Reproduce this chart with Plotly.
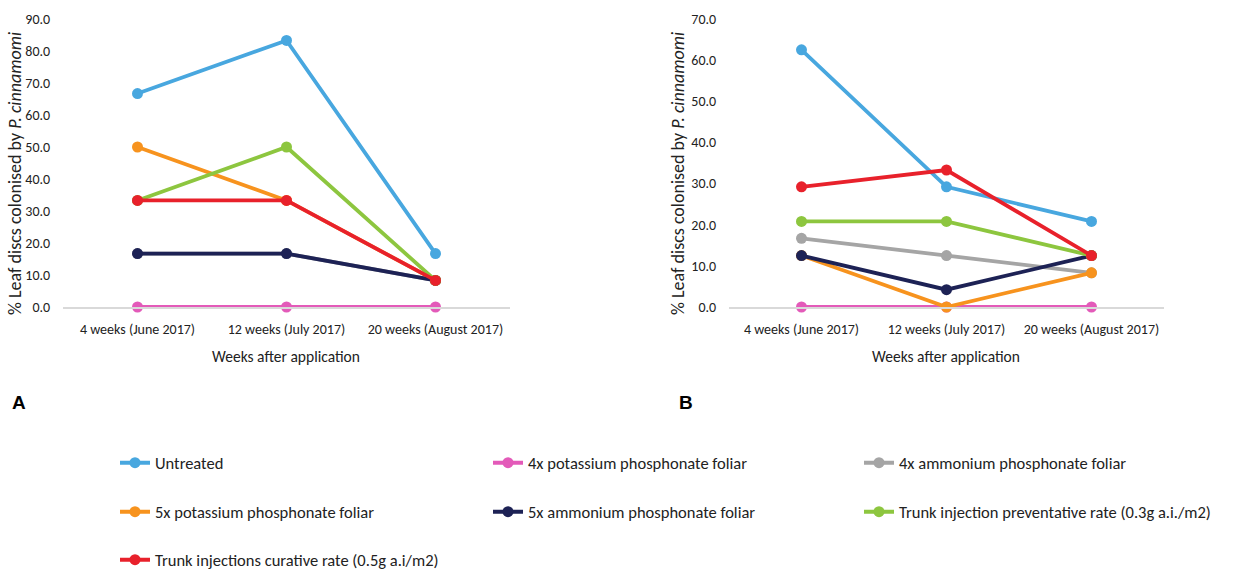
import plotly.graph_objects as go

categories = ["4 weeks (June 2017)", "12 weeks (July 2017)", "20 weeks (August 2017)"]
series_names = [
    "Untreated",
    "4x potassium phosphonate foliar",
    "4x ammonium phosphonate foliar",
    "5x potassium phosphonate foliar",
    "5x ammonium phosphonate foliar",
    "Trunk injection preventative rate (0.3g a.i./m2)",
    "Trunk injections curative rate (0.5g a.i/m2)",
]
colors = ["#48a7df", "#e35ab9", "#a5a5a5", "#f7931e", "#1d2255", "#8dc63f", "#e8212b"]

panel_a = [
    [66.7, 83.3, 16.7],
    [0.0, 0.0, 0.0],
    [16.7, 16.7, 8.3],
    [50.0, 33.3, 8.3],
    [16.7, 16.7, 8.3],
    [33.3, 50.0, 8.3],
    [33.3, 33.3, 8.3],
]
panel_b = [
    [62.5, 29.2, 20.8],
    [0.0, 0.0, 0.0],
    [16.7, 12.5, 8.3],
    [12.5, 0.0, 8.3],
    [12.5, 4.2, 12.5],
    [20.8, 20.8, 12.5],
    [29.2, 33.3, 12.5],
]

W, H = 1258, 569
FONT = "Carlito, Lato, sans-serif"
TXT = "#222222"

def px(x):
    return x / W

def py(y):
    return 1 - y / H

fig = go.Figure()
legend_keys = ["legend", "legend2", "legend3", "legend4", "legend5", "legend6", "legend7"]

for i, name in enumerate(series_names):
    fig.add_trace(go.Scatter(
        x=categories, y=panel_a[i], name=name, mode="lines+markers",
        line=dict(color=colors[i], width=3.8),
        marker=dict(color=colors[i], size=11),
        xaxis="x", yaxis="y", cliponaxis=False,
        legend=legend_keys[i], showlegend=True,
    ))
for i, name in enumerate(series_names):
    fig.add_trace(go.Scatter(
        x=categories, y=panel_b[i], name=name, mode="lines+markers",
        line=dict(color=colors[i], width=3.8),
        marker=dict(color=colors[i], size=11),
        xaxis="x2", yaxis="y2", cliponaxis=False,
        showlegend=False,
    ))

xcommon = dict(
    type="category", range=[-0.5, 2.5], showline=True, linecolor="#d9d9d9", linewidth=1.5,
    showgrid=False, zeroline=False, ticks="outside", ticklen=8, tickcolor="rgba(0,0,0,0)",
    tickfont=dict(family=FONT, size=14, color=TXT),
)
ycommon = dict(
    showgrid=False, zeroline=False, showline=False, dtick=10, tickformat=".1f",
    ticks="outside", ticklen=9, tickcolor="rgba(0,0,0,0)",
    tickfont=dict(family=FONT, size=14, color=TXT),
)

layout = dict(
    width=W, height=H, margin=dict(l=0, r=0, t=0, b=0, autoexpand=False),
    paper_bgcolor="white", plot_bgcolor="white",
    xaxis=dict(domain=[px(63), px(510)], anchor="y", **xcommon),
    yaxis=dict(domain=[py(307), py(19)], anchor="x", range=[0, 90], **ycommon),
    xaxis2=dict(domain=[px(729), px(1164)], anchor="y2", **xcommon),
    yaxis2=dict(domain=[py(307), py(19)], anchor="x2", range=[0, 70], **ycommon),
)

# legends placed in a 3-column grid
legend_pos = [(115, 463), (488, 463), (859, 463), (115, 512), (488, 512), (859, 512), (115, 560)]
for key, (lx, ly) in zip(legend_keys, legend_pos):
    layout[key] = dict(
        x=px(lx), y=py(ly), xanchor="left", yanchor="middle", orientation="h",
        bgcolor="rgba(0,0,0,0)", font=dict(family=FONT, size=16.5, color=TXT),
    )

fig.update_layout(**layout)

ytitle = "% Leaf discs colonised by <i>P. cinnamomi</i>"
annotations = [
    dict(x=px(15), y=py(174), text=ytitle, textangle=-90, size=18),
    dict(x=px(678), y=py(174), text=ytitle, textangle=-90, size=18),
    dict(x=px(286), y=py(356), text="Weeks after application", size=15.5),
    dict(x=px(946), y=py(356), text="Weeks after application", size=15.5),
]
for a in annotations:
    size = a.pop("size")
    fig.add_annotation(xref="paper", yref="paper", showarrow=False, xanchor="center", yanchor="middle",
                       font=dict(family=FONT, size=size, color=TXT), **a)

fig.add_annotation(xref="paper", yref="paper", x=px(19), y=py(402), text="<b>A</b>",
                   xanchor="center", yanchor="middle",
                   showarrow=False, font=dict(family="Liberation Sans, Arial", size=19, color="black"))
fig.add_annotation(xref="paper", yref="paper", x=px(686), y=py(402), text="<b>B</b>",
                   xanchor="center", yanchor="middle",
                   showarrow=False, font=dict(family="Liberation Sans, Arial", size=19, color="black"))

fig.write_html("out.html")
